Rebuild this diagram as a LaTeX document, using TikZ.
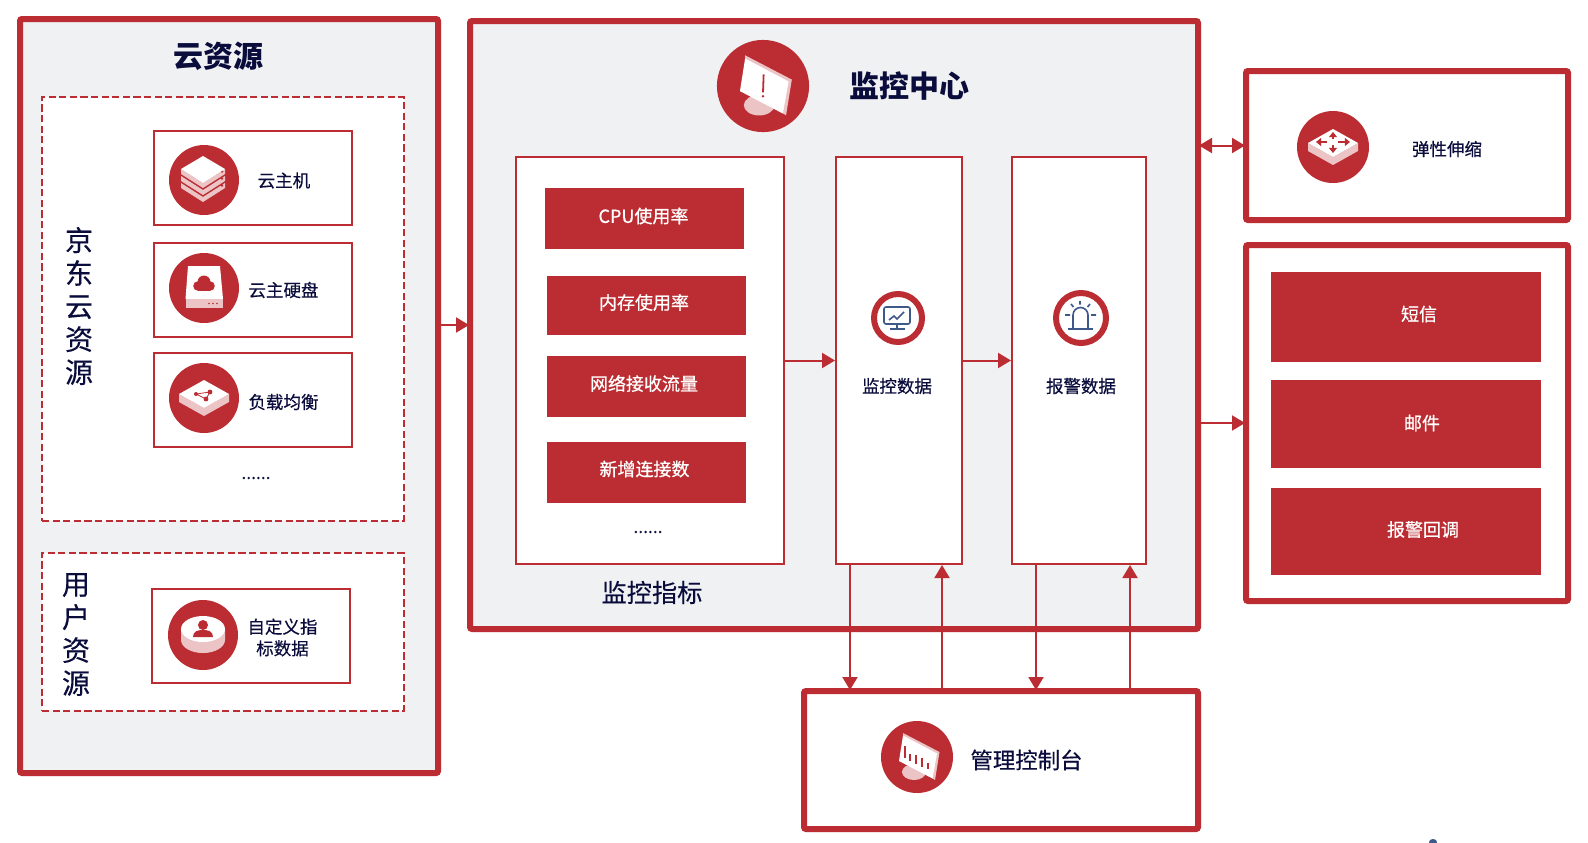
\documentclass[tikz,border=0pt]{standalone}
\usepackage{fontspec}
\setmainfont{Noto Sans CJK SC}
\usetikzlibrary{arrows.meta}
\definecolor{jdred}{RGB}{187,45,50}
\definecolor{jdpink}{RGB}{236,196,198}
\definecolor{jdgray}{RGB}{240,241,243}
\definecolor{jdnavy}{RGB}{10,12,60}
\definecolor{jdblue}{RGB}{62,88,138}
\tikzset{
	sized/.style 2 args={minimum width=#1*0.5pt,minimum height=#2*0.5pt},
	frame/.style={draw=jdred,line width=3pt,rounded corners=1pt,fill=#1},
	dashbox/.style={draw=jdred,line width=1pt,fill=white,dash pattern=on 3.6pt off 1.7pt},
	card/.style={draw=jdred,line width=1pt,fill=white,inner sep=0pt},
	bar/.style={fill=jdred,text=white,inner sep=0pt,font=\fontsize{9}{11}\selectfont\addfontfeature{FakeBold=0.7}},
	lab/.style={text=jdnavy,inner sep=0pt,align=center,font=\fontsize{8.75}{10.8}\selectfont\addfontfeature{FakeBold=0.4}},
	biglab/.style={text=jdnavy,inner sep=0pt,align=center,font=\fontsize{14}{16.5}\selectfont\addfontfeature{FakeBold=0.3}},
	flow/.style={draw=jdred,line width=1pt,-{Triangle[length=6.5pt,width=7.5pt]}},
	into/.style={shorten >=-1pt}
}
\newcommand{\stackicon}[1]{
	\begin{scope}[shift={(#1)}]
		\fill[jdred] (0,0) circle (35);
		\foreach \dy in {0,7,14} {
			\fill[jdpink] (-23,{-11+\dy}) -- (-1,{3+\dy}) -- (21,{-11+\dy}) -- (21,{-6+\dy}) -- (-1,{8+\dy}) -- (-23,{-6+\dy}) -- cycle;
			\fill[jdred] (18,{-8.5+\dy}) circle (1.3);
		}
		\fill[white] (-1,-24) -- (-23,-11) -- (-1,3) -- (21,-11) -- cycle;
	\end{scope}
}
\newcommand{\diskicon}[1]{
	\begin{scope}[shift={(#1)}]
		\fill[jdred] (0,0) circle (35);
		\fill[white] (-16,-22) -- (16,-22) -- (19,11) -- (-18.5,11) -- cycle;
		\fill[jdpink] (-18.5,11) rectangle (19,20);
		\fill[jdred] (-6,-2) circle (4.8) (6,-2) circle (4.8) (0,-6) circle (6.5);
		\fill[jdred] (-6,-7) rectangle (6,2.8);
		\foreach \dx in {5,9,13} {\fill[jdred] (\dx,15.5) circle (0.9);}
	\end{scope}
}
\newcommand{\plateicon}{
	\fill[jdpink] (-25,-4) -- (0,10) -- (25,-4) -- (25,4) -- (0,18) -- (-25,4) -- cycle;
	\fill[white] (0,-18) -- (-25,-4) -- (0,10) -- (25,-4) -- cycle;
}
\newcommand{\balanceicon}[1]{
	\begin{scope}[shift={(#1)}]
		\fill[jdred] (0,0) circle (35);
		\plateicon
		\draw[jdred,line width=0.4pt] (-8,-4) -- (2,1) -- (6,-6) -- cycle;
		\fill[jdred] (-8,-4) circle (2) (2,1) circle (2.4) (6,-6) circle (2.4);
	\end{scope}
}
\newcommand{\scaleicon}[1]{
	\begin{scope}[shift={(#1)}]
		\fill[jdred] (0,0) circle (36);
		\plateicon
		\draw[jdred,line width=0.8pt,-{Triangle[length=2.6pt,width=4pt]}] (0,-8) -- (0,-15);
		\draw[jdred,line width=0.8pt,-{Triangle[length=2.6pt,width=4pt]}] (0,-2) -- (0,6);
		\draw[jdred,line width=0.8pt,-{Triangle[length=2.6pt,width=4pt]}] (-6,-5) -- (-17,-5);
		\draw[jdred,line width=0.8pt,-{Triangle[length=2.6pt,width=4pt]}] (5,-5) -- (17,-5);
	\end{scope}
}
\newcommand{\usericon}[1]{
	\begin{scope}[shift={(#1)}]
		\fill[jdred] (0,0) circle (35);
		\fill[jdpink] (-22,-6) -- (-22,5) arc (180:0:22 and 13) -- (22,-6) -- cycle;
		\fill[white] (0,-6) ellipse (22 and 13);
		\fill[jdred] (0,-10) circle (5);
		\fill[jdred] (-10,2) .. controls (-10,-4) and (-5,-5) .. (0,-5) .. controls (5,-5) and (10,-4) .. (10,2) -- cycle;
	\end{scope}
}
\newcommand{\screenicon}[3]{
	\begin{scope}[shift={(#1)},scale=#2]
		\fill[jdred] (0,0) circle (36);
		\fill[jdpink] (-3,15) ellipse (12 and 8);
		\fill[jdpink] (-14,-24) -- (22.5,-5) -- (18,23) -- (15,21) -- (-14,-20) -- cycle;
		\fill[white] (-14,-21.5) -- (20,-3.5) -- (15.5,21.5) -- (-18,4) -- cycle;
		#3
	\end{scope}
}
\begin{document}
\begin{tikzpicture}[x=0.5pt,y=-0.5pt]
	\useasboundingbox (0,0) rectangle (1588,842);
	\fill[white] (0,0) rectangle (1588,842);
	% left column
	\node[frame=jdgray,sized={418}{754}] (cloud) at (229,396) {};
	\node[font=\bfseries\fontsize{15}{18}\selectfont,text=jdnavy] (cloudtitle) at (218,56) {云资源};
	\node[dashbox,sized={362}{424}] (jdres) at (223,309) {};
	\node[dashbox,sized={362}{158}] (userres) at (223,632) {};
	\node[biglab] (jdlabel) at (79,306) {京\\东\\云\\资\\源};
	\node[biglab] (userlabel) at (76,634.5) {用\\户\\资\\源};
	\node[card,sized={198}{94}] (vm) at (253,178) {};
	\node[card,sized={198}{94}] (hd) at (253,290) {};
	\node[card,sized={198}{94}] (lb) at (253,400) {};
	\node[card,sized={198}{94}] (custom) at (251,636) {};
	\stackicon{204,180}
	\diskicon{204,288}
	\balanceicon{204,398}
	\usericon{203,635}
	\node[lab] (vmtext) at (284,180.5) {云主机};
	\node[lab] (hdtext) at (283.5,290) {云主硬盘};
	\node[lab] (lbtext) at (283.5,402) {负载均衡};
	\node[lab] (customtext) at (282.5,637.5) {自定义指\\标数据};
	\node[lab] (lbdots) at (256,478) {......};
	% monitor center
	\node[frame=jdgray,sized={728}{608}] (center) at (834,325) {};
	\screenicon{763,86}{1.28}{
		\draw[jdred,line width=0.9pt] (0.5,-9) -- (0,5);
		\fill[jdred] (0,8) circle (1.1);
	}
	\node[font=\bfseries\fontsize{15}{18}\selectfont,text=jdnavy] (centertitle) at (909,86) {监控中心};
	\node[card,sized={268}{407}] (metrics) at (650,360.5) {};
	\node[card,sized={126}{407}] (data) at (899,360.5) {};
	\node[card,sized={134}{407}] (alarm) at (1079,360.5) {};
	\node[bar,sized={199}{61}] (cpu) at (644,218.5) {};
	\node[bar,sized={199}{59}] (mem) at (646,305.5) {};
	\node[bar,sized={199}{61}] (net) at (646,386.5) {};
	\node[bar,sized={199}{61}] (conn) at (646,472.5) {};
	\node[bar,fill=none] (cputext) at (643.5,216) {CPU使用率};
	\node[bar,fill=none] (memtext) at (644,302.5) {内存使用率};
	\node[bar,fill=none] (nettext) at (644,383.5) {网络接收流量};
	\node[bar,fill=none] (conntext) at (644.5,469) {新增连接数};
	\node[lab] (metricdots) at (648,532) {......};
	\node[lab,font=\fontsize{12.6}{15}\selectfont\addfontfeature{FakeBold=0.3}] (metricstext) at (652,592.5) {监控指标};
	\node[draw=jdred,line width=3pt,fill=white,circle,inner sep=0pt,minimum size=24pt] (dataring) at (898,318) {};
	\node[draw=jdred,line width=3pt,fill=white,circle,inner sep=0pt,minimum size=25pt] (alarmring) at (1081,318) {};
	\begin{scope}[shift={(dataring.center)},draw=jdblue,line width=0.8pt]
		\draw[rounded corners=1pt] (-14,-11) rectangle (12,6);
		\draw (-1,6) -- (-1,11) (-8,11) -- (7,11);
		\draw (-9,2) -- (-4,-2) -- (-1,1) -- (6,-6);
	\end{scope}
	\begin{scope}[shift={(alarmring.center)},draw=jdblue,line width=0.8pt]
		\draw (-8,10) -- (-8,-3) arc (180:360:7.5) -- (7,10);
		\draw (-13,11) -- (12,11);
		\draw (-1,-17) -- (-1,-13.5) (-10,-14) -- (-7.5,-11) (9,-14) -- (6.5,-11) (-16,-3) -- (-11,-3) (10,-3) -- (15,-3);
	\end{scope}
	\node[lab] (datatext) at (897,386) {监控数据};
	\node[lab] (alarmtext) at (1081,386) {报警数据};
	% right column
	\node[frame=white,sized={322}{149}] (elastic) at (1407,145.5) {};
	\scaleicon{1333,147}
	\node[lab] (elastictext) at (1447,149) {弹性伸缩};
	\node[frame=white,sized={322}{356}] (notify) at (1407,423) {};
	\node[bar,sized={270}{90}] (sms) at (1406,317) {};
	\node[bar,sized={270}{88}] (mail) at (1406,424) {};
	\node[bar,sized={270}{87}] (hook) at (1406,531.5) {};
	\node[bar,fill=none] (smstext) at (1419,314) {短信};
	\node[bar,fill=none] (mailtext) at (1422,423) {邮件};
	\node[bar,fill=none] (hooktext) at (1423,529.5) {报警回调};
	% console
	\node[frame=white,sized={394}{138}] (console) at (1001,760) {};
	\screenicon{917,757}{1}{
		\foreach \bx/\by/\bz in {-12/-11/1,-7/-3/4,-1/-2/7,5/1/10,11/6/12} {
			\draw[jdred,line width=0.9pt] (\bx,\by) -- (\bx,\bz);
		}
	}
	\node[lab,font=\fontsize{11.2}{13}\selectfont\addfontfeature{FakeBold=0.3}] (consoletext) at (1026.5,760) {管理控制台};
	% connectors
	\coordinate (d1) at (850,600);
	\coordinate (d2) at (942,600);
	\coordinate (d3) at (1036,600);
	\coordinate (d4) at (1130,600);
	\draw[flow,into] (cloud.east |- center.west) -- (center.west);
	\draw[flow] (metrics) -- (data);
	\draw[flow] (data) -- (alarm);
	\draw[flow,into,shorten <=-1pt,{Triangle[length=6.5pt,width=7.5pt]}-{Triangle[length=6.5pt,width=7.5pt]}] (center.east |- elastic.west) -- (elastic.west);
	\draw[flow,into] (center.east |- notify.west) -- (notify.west);
	\draw[flow,into] (d1 |- data.south) -- (d1 |- console.north);
	\draw[flow] (d2 |- console.north) -- (d2 |- data.south);
	\draw[flow,into] (d3 |- alarm.south) -- (d3 |- console.north);
	\draw[flow] (d4 |- console.north) -- (d4 |- alarm.south);
	\fill[jdblue] (1433,842) ellipse (4 and 3);
\end{tikzpicture}
\end{document}
